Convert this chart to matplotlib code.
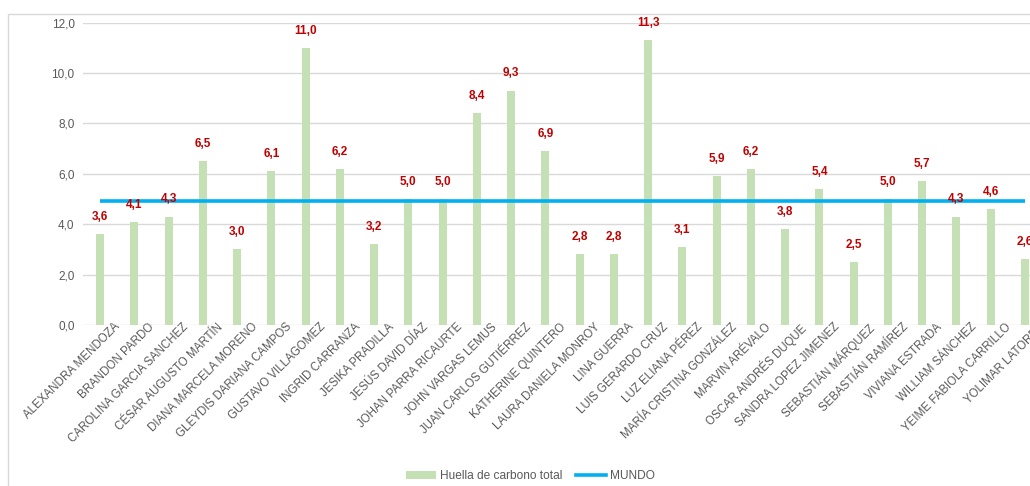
import matplotlib
matplotlib.use("Agg")
import matplotlib.pyplot as plt
from matplotlib.patches import Rectangle
from matplotlib.lines import Line2D
from matplotlib.patches import Patch
import matplotlib.transforms as mtransforms

plt.rcParams['font.family'] = ['Liberation Sans', 'DejaVu Sans']

names = ["ALEXANDRA MENDOZA", "BRANDON PARDO", "CAROLINA GARCIA SANCHEZ",
         "CÉSAR AUGUSTO MARTÍN", "DIANA MARCELA MORENO", "GLEYDIS DARIANA CAMPOS",
         "GUSTAVO VILLAGOMEZ", "INGRID CARRANZA", "JESIKA PRADILLA",
         "JESÚS DAVID DÍAZ", "JOHAN PARRA RICAURTE", "JOHN VARGAS LEMUS",
         "JUAN CARLOS GUTIÉRREZ", "KATHERINE QUINTERO", "LAURA DANIELA MONROY",
         "LINA GUERRA", "LUIS GERARDO CRUZ", "LUZ ELIANA PÉREZ",
         "MARÍA CRISTINA GONZÁLEZ", "MARVIN ARÉVALO", "OSCAR ANDRÉS DUQUE",
         "SANDRA LOPEZ JIMENEZ", "SEBASTIÁN MÁRQUEZ", "SEBASTIÁN RAMÍREZ",
         "VIVIANA ESTRADA", "WILLIAM SÁNCHEZ", "YEIME FABIOLA CARRILLO",
         "YOLIMAR LATORRE"]
huella = [3.6, 4.1, 4.3, 6.5, 3.0, 6.1, 11.0, 6.2, 3.2, 5.0, 5.0, 8.4, 9.3, 6.9,
          2.8, 2.8, 11.3, 3.1, 5.9, 6.2, 3.8, 5.4, 2.5, 5.0, 5.7, 4.3, 4.6, 2.6]
mundo = 4.9
yticks = [0, 2, 4, 6, 8, 10, 12]

W, H = 1030, 486
fig = plt.figure(figsize=(W / 100, H / 100), dpi=100)

# outer chart border
fig.patches.append(Rectangle((8 / W, -0.1), 1.2, (H - 14) / H + 0.1,
                             transform=fig.transFigure, fill=False,
                             edgecolor='#D9D9D9', linewidth=1.0))

left, right = 83 / W, 1042 / W
bottom, top = (H - 325) / H, (H - 22.5) / H
ax = fig.add_axes([left, bottom, right - left, top - bottom])

x = list(range(len(names)))
bar_color = '#C5E0B4'
line_color = '#00B0F0'
ax.bar(x, huella, width=0.24, color=bar_color, zorder=2)
ax.plot([x[0], x[-1]], [mundo, mundo], color=line_color, linewidth=2.6,
        solid_capstyle='butt', zorder=3)

for xi, v in zip(x, huella):
    ax.annotate(f"{v:.1f}".replace('.', ','), (xi, v), xytext=(0, 8),
                textcoords='offset points', ha='center', va='bottom',
                color='#C00000', fontsize=8.5, fontweight='bold', zorder=4)

ax.set_xlim(-0.5, len(names) - 0.5)
ax.set_ylim(0, 12)
ax.set_yticks(yticks)
ax.set_yticklabels([f"{t:.1f}".replace('.', ',') for t in yticks])
ax.yaxis.grid(True, color='#D9D9D9', linewidth=1.0, zorder=0)
ax.set_axisbelow(True)
for s in ax.spines.values():
    s.set_visible(False)
ax.tick_params(axis='y', length=0, pad=6, labelsize=8.5, labelcolor='#595959')
ax.tick_params(axis='x', length=0, pad=0, labelsize=8.3, labelcolor='#595959')
ax.set_xticks(x)
ax.set_xticklabels(names, rotation=45, ha='right', rotation_mode='anchor')
offset = mtransforms.ScaledTranslation(14 / 100, 4 / 100, fig.dpi_scale_trans)
for lab in ax.get_xticklabels():
    lab.set_transform(lab.get_transform() + offset)

handles = [Patch(facecolor=bar_color, edgecolor='none', label='Huella de carbono total'),
           Line2D([0], [0], color=line_color, linewidth=2.6, label='MUNDO')]
fig.legend(handles=handles, loc='center', bbox_to_anchor=(0.515, (H - 476) / H),
           ncol=2, frameon=False, fontsize=8.6, labelcolor='#595959',
           handlelength=2.5, handleheight=0.6, handletextpad=0.3, columnspacing=1.2)

fig.savefig('out.png', dpi=100)
